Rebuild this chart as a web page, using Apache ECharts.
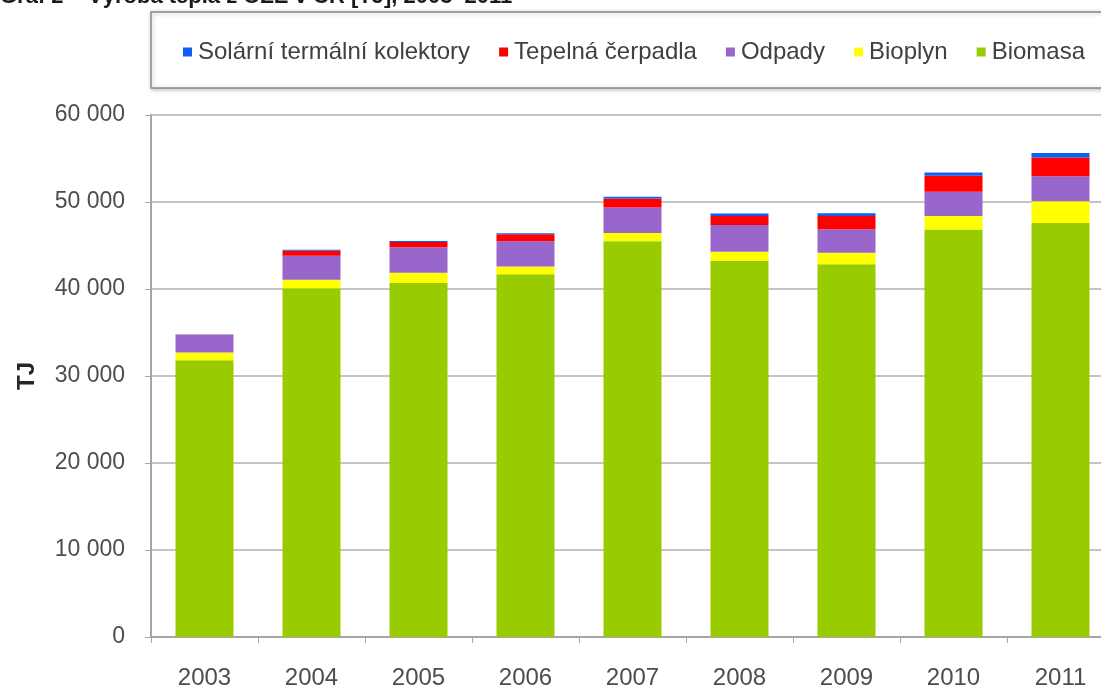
<!DOCTYPE html>
<html>
<head>
<meta charset="utf-8">
<script src="https://cdn.jsdelivr.net/npm/echarts@6/dist/echarts.min.js"></script>
<style>
  html, body { margin: 0; padding: 0; background: #fff; }
  #chart { width: 1101px; height: 688px; }
</style>
</head>
<body>
<div id="chart"></div>
<script>
// Heat production from renewable sources in the Czech Republic, TJ
const years = ['2003', '2004', '2005', '2006', '2007', '2008', '2009', '2010', '2011'];
const biomasa = [31800, 40100, 40700, 41700, 45500, 43250, 42850, 46850, 47600];
const bioplyn = [900, 950, 1180, 880, 950, 1030, 1330, 1530, 2490];
const odpady = [2000, 2760, 2920, 2920, 2920, 3070, 2690, 2790, 2870];
const tepelnaCerpadla = [40, 580, 610, 780, 1030, 1030, 1530, 1840, 2150];
const solarniKolektory = [20, 120, 120, 120, 190, 300, 300, 390, 530];
const yTicks = [0, 10000, 20000, 30000, 40000, 50000, 60000];

const seriesNames = {
  solar: 'Solární termální kolektory',
  heatPump: 'Tepelná čerpadla',
  waste: 'Odpady',
  biogas: 'Bioplyn',
  biomass: 'Biomasa'
};

const font = "'Liberation Sans', Arial, sans-serif";

function fmt(v) {
  return String(v).replace(/\B(?=(\d{3})+(?!\d))/g, ' ');
}

function bar(name, data, color) {
  return {
    name: name,
    type: 'bar',
    stack: 'total',
    barWidth: 58,
    data: data,
    itemStyle: { color: color },
    emphasis: { disabled: true }
  };
}

const chart = echarts.init(document.getElementById('chart'), null, { renderer: 'canvas' });
chart.setOption({
  animation: false,
  backgroundColor: '#ffffff',
  title: {
    text: 'Graf 2 – Výroba tepla z OZE v ČR [TJ], 2003–2011',
    left: 0,
    top: -14,
    padding: 0,
    textStyle: { fontFamily: font, fontWeight: 'bold', fontSize: 22, color: '#1a1a1a' }
  },
  graphic: [{
    type: 'rect',
    shape: { x: 151, y: 12, width: 1000, height: 76 },
    style: {
      fill: '#ffffff',
      stroke: '#8a8a8a',
      lineWidth: 1.5,
      shadowBlur: 4,
      shadowColor: 'rgba(0,0,0,0.25)',
      shadowOffsetX: 1,
      shadowOffsetY: 1
    },
    z: -1,
    silent: true
  }],
  legend: {
    left: 178,
    top: 35,
    itemWidth: 9,
    itemHeight: 9,
    itemGap: 29,
    icon: 'rect',
    data: [seriesNames.solar, seriesNames.heatPump, seriesNames.waste, seriesNames.biogas, seriesNames.biomass],
    textStyle: { fontFamily: font, fontSize: 24, color: '#404040', padding: [0, 0, 0, 1] }
  },
  grid: { left: 151, top: 115, width: 963, height: 522, containLabel: false, outerBoundsMode: 'none' },
  xAxis: {
    type: 'category',
    data: years,
    axisLine: { lineStyle: { color: '#a6a6a6', width: 2 } },
    axisTick: { show: true, length: 6, lineStyle: { color: '#a6a6a6', width: 1 } },
    axisLabel: { margin: 29, fontFamily: font, fontSize: 24, color: '#4d4d4d' }
  },
  yAxis: {
    type: 'value',
    min: 0,
    max: 60000,
    interval: 10000,
    name: 'TJ',
    nameLocation: 'middle',
    nameRotate: 90,
    nameGap: 112,
    nameMoveOverlap: false,
    nameTextStyle: { fontFamily: font, fontSize: 24, fontWeight: 'bold', color: '#262626' },
    axisLine: { show: true, lineStyle: { color: '#a6a6a6', width: 2 } },
    axisTick: { show: true, length: 6, lineStyle: { color: '#a6a6a6', width: 1 } },
    splitLine: { show: true, lineStyle: { color: '#c4c4c4', width: 2 } },
    axisLabel: {
      margin: 26,
      fontFamily: font,
      fontSize: 23,
      color: '#4d4d4d',
      formatter: function (v) { return yTicks.indexOf(v) >= 0 ? fmt(v) : ''; }
    }
  },
  series: [
    bar(seriesNames.biomass, biomasa, '#99cc00'),
    bar(seriesNames.biogas, bioplyn, '#ffff00'),
    bar(seriesNames.waste, odpady, '#9966cc'),
    bar(seriesNames.heatPump, tepelnaCerpadla, '#ff0000'),
    bar(seriesNames.solar, solarniKolektory, '#0f5ff5')
  ]
});
</script>
</body>
</html>
